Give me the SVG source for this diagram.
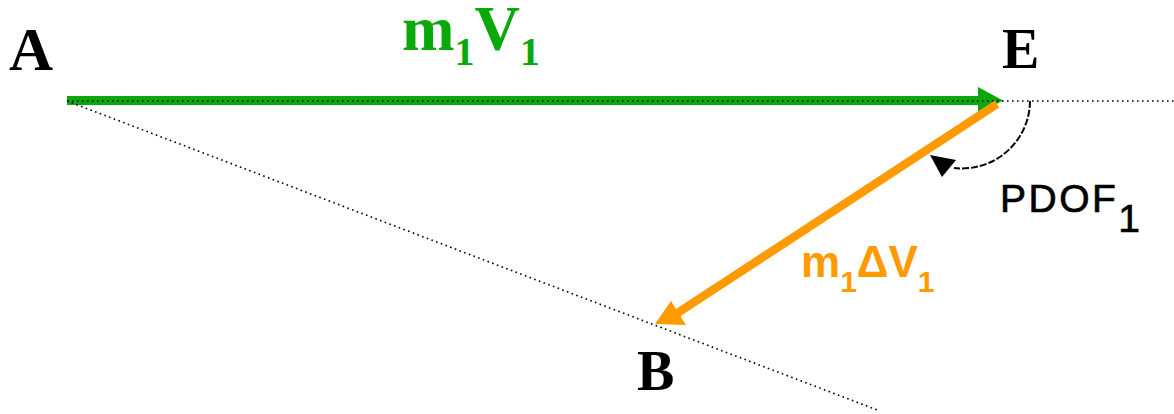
<svg xmlns="http://www.w3.org/2000/svg" width="1174" height="414" viewBox="0 0 1174 414">
<style>
.lbl{font-family:"Liberation Serif","Times New Roman",serif;font-weight:bold;fill:#000}
.dot{fill:none;stroke:#000;stroke-width:1.6;stroke-dasharray:1.6 3.4}
.sans{font-family:"Liberation Sans",Arial,sans-serif}
</style>
<rect width="1174" height="414" fill="#fff"/>
<g id="connectors">
  <g id="m1V1-arrow">
    <line x1="67" y1="100.5" x2="980" y2="100.5" stroke="#0aa80a" stroke-width="9"/>
    <polygon points="978,87 1003,100.5 978,114" fill="#0aa80a"/>
  </g>
  <line id="ref-horizontal" class="dot" x1="67" y1="101" x2="1174" y2="101"/>
  <line id="ref-AB" class="dot" x1="67" y1="101" x2="880" y2="411"/>
  <g id="m1dV1-arrow">
    <line x1="997" y1="104" x2="676" y2="314" stroke="#ff9a00" stroke-width="8.5"/>
    <polygon points="655,324 671,301 686,325" fill="#ff9a00"/>
  </g>
  <g id="pdof-arc">
    <path d="M1030,101 A68,68 0 0 1 954,168" fill="none" stroke="#000" stroke-width="2" stroke-dasharray="7 2"/>
    <polygon points="930,155 942,177 956,160" fill="#000"/>
  </g>
</g>
<g id="node-A"><text class="lbl" x="9" y="70" font-size="61">A</text></g>
<g id="node-E"><text class="lbl" x="1002" y="68" font-size="56">E</text></g>
<g id="node-B"><text class="lbl" x="637" y="390" font-size="56">B</text></g>
<g id="label-m1V1"><text class="lbl" x="402" y="50" font-size="63" style="fill:#0aa80a">m<tspan font-size="40" dy="15">1</tspan><tspan dy="-15">V</tspan><tspan font-size="40" dy="15">1</tspan></text></g>
<g id="label-m1dV1"><text class="sans" x="801" y="277" font-size="44" font-weight="bold" fill="#ff9a00">m<tspan font-size="30" dy="15">1</tspan><tspan dy="-15">ΔV</tspan><tspan font-size="30" dy="15">1</tspan></text></g>
<g id="label-PDOF"><text class="sans" x="1000" y="212" font-size="39" letter-spacing="2.5" fill="#000" stroke="#000" stroke-width="0.7">PDOF<tspan dy="20" letter-spacing="0">1</tspan></text></g>
</svg>
